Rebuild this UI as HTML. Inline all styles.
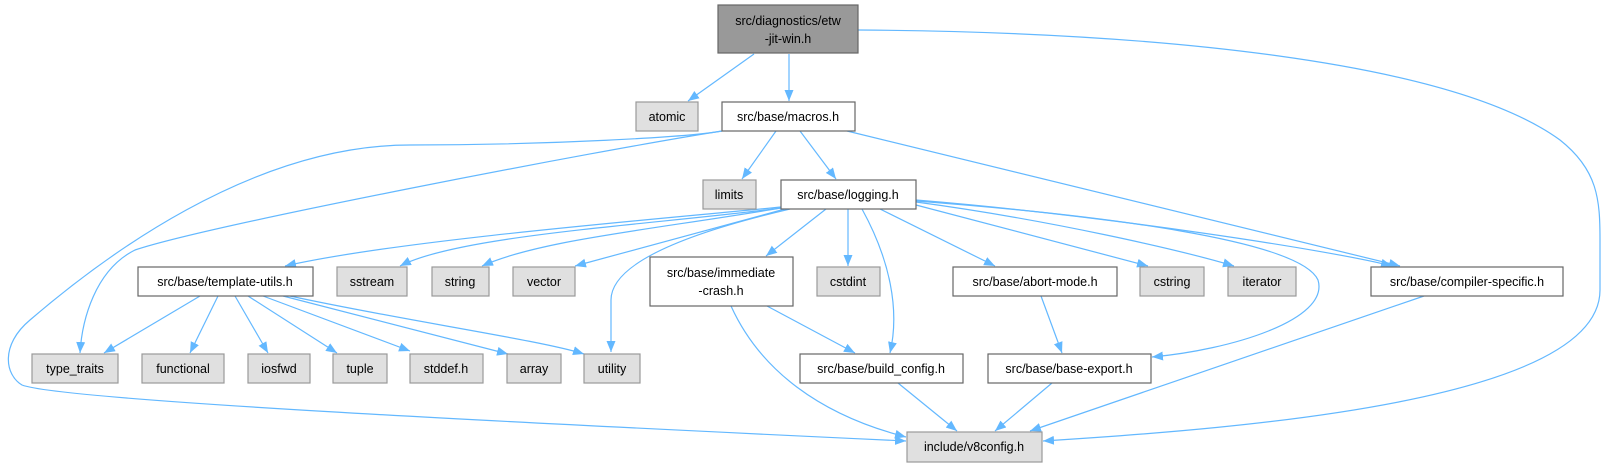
<!DOCTYPE html>
<html><head><meta charset="utf-8"><style>
html,body{margin:0;padding:0;background:#fff;}
svg{display:block;}
text{font-family:"Liberation Sans",sans-serif;font-size:12.5px;fill:#000;text-anchor:middle;}
.e{fill:none;stroke:#63b8ff;stroke-width:1.2;marker-end:url(#a);}
.w{fill:#fff;stroke:#666;stroke-width:1.2;}
.g{fill:#e0e0e0;stroke:#999;stroke-width:1.2;}
.r{fill:#999;stroke:#666;stroke-width:1.2;}
</style></head><body>
<svg width="1606" height="467" viewBox="0 0 1606 467" xmlns="http://www.w3.org/2000/svg">
<defs><marker id="a" markerUnits="userSpaceOnUse" markerWidth="12" markerHeight="10" refX="11" refY="4.5" orient="auto"><path d="M0,0 L11,4.5 L0,9 z" fill="#63b8ff"/></marker></defs>

<path class="e" d="M754,54 L688,101"/>
<path class="e" d="M789,54 L789,101"/>
<path class="e" d="M858,30 C1150,32 1450,60 1560,140 C1598,170 1600,200 1600,240 L1600,290 C1600,400 1250,428 1043,441"/>
<path class="e" d="M722,131 C600,150 210,225 135,250 C95,270 82,320 80,353"/>
<path class="e" d="M722,131 C690,137 550,145 410,145 C250,145 100,260 30,320 C0,345 5,375 22,385 C60,400 500,422 906,441"/>
<path class="e" d="M776,131 L742,179"/>
<path class="e" d="M800,131 L836,179"/>
<path class="e" d="M847,131 L1400,266"/>
<path class="e" d="M781,207 C650,220 400,240 285,266"/>
<path class="e" d="M781,208 C650,225 460,235 400,266"/>
<path class="e" d="M781,208 C650,230 540,240 482,266"/>
<path class="e" d="M785,209 L575,266"/>
<path class="e" d="M790,209 C700,230 611,260 611,300 L611,352"/>
<path class="e" d="M826,209 L766,256"/>
<path class="e" d="M848,209 L848,266"/>
<path class="e" d="M862,209 C890,260 900,310 890,353"/>
<path class="e" d="M880,209 L995,266"/>
<path class="e" d="M916,205 L1148,266"/>
<path class="e" d="M916,202 C1050,220 1180,250 1234,266"/>
<path class="e" d="M916,201 C1100,215 1300,240 1318,280 C1330,320 1230,350 1152,357"/>
<path class="e" d="M916,200 C1100,215 1330,250 1392,266"/>
<path class="e" d="M200,296 L104,353"/>
<path class="e" d="M218,296 L190,353"/>
<path class="e" d="M235,296 L268,353"/>
<path class="e" d="M248,296 L337,353"/>
<path class="e" d="M263,296 L410,351"/>
<path class="e" d="M283,296 L508,354"/>
<path class="e" d="M290,296 C400,320 540,340 584,354"/>
<path class="e" d="M767,306 L855,353"/>
<path class="e" d="M731,306 C760,370 820,415 906,437"/>
<path class="e" d="M1041,296 L1062,353"/>
<path class="e" d="M898,383 L957,431"/>
<path class="e" d="M1052,383 L995,431"/>
<path class="e" d="M1424,296 L1030,431"/>

<rect class="r" x="718" y="5" width="140" height="48"/>
<text x="788" y="25">src/diagnostics/etw</text><text x="788" y="43">-jit-win.h</text>
<rect class="g" x="636" y="102" width="62" height="29"/><text x="667" y="121">atomic</text>
<rect class="w" x="722" y="102" width="133" height="29"/><text x="788" y="121">src/base/macros.h</text>
<rect class="g" x="703" y="180" width="53" height="29"/><text x="729" y="199">limits</text>
<rect class="w" x="781" y="180" width="135" height="29"/><text x="848" y="199">src/base/logging.h</text>
<rect class="w" x="138" y="267" width="175" height="29"/><text x="225" y="286">src/base/template-utils.h</text>
<rect class="g" x="337" y="267" width="70" height="29"/><text x="372" y="286">sstream</text>
<rect class="g" x="432" y="267" width="57" height="29"/><text x="460" y="286">string</text>
<rect class="g" x="513" y="267" width="62" height="29"/><text x="544" y="286">vector</text>
<rect class="w" x="650" y="257" width="143" height="49"/><text x="721" y="277">src/base/immediate</text><text x="721" y="295">-crash.h</text>
<rect class="g" x="817" y="267" width="63" height="29"/><text x="848" y="286">cstdint</text>
<rect class="w" x="953" y="267" width="164" height="29"/><text x="1035" y="286">src/base/abort-mode.h</text>
<rect class="g" x="1140" y="267" width="64" height="29"/><text x="1172" y="286">cstring</text>
<rect class="g" x="1228" y="267" width="68" height="29"/><text x="1262" y="286">iterator</text>
<rect class="w" x="1371" y="267" width="192" height="29"/><text x="1467" y="286">src/base/compiler-specific.h</text>
<rect class="g" x="32" y="354" width="86" height="29"/><text x="75" y="373">type_traits</text>
<rect class="g" x="142" y="354" width="82" height="29"/><text x="183" y="373">functional</text>
<rect class="g" x="248" y="354" width="62" height="29"/><text x="279" y="373">iosfwd</text>
<rect class="g" x="333" y="354" width="54" height="29"/><text x="360" y="373">tuple</text>
<rect class="g" x="410" y="354" width="73" height="29"/><text x="446" y="373">stddef.h</text>
<rect class="g" x="507" y="354" width="54" height="29"/><text x="534" y="373">array</text>
<rect class="g" x="584" y="354" width="56" height="29"/><text x="612" y="373">utility</text>
<rect class="w" x="800" y="354" width="163" height="29"/><text x="881" y="373">src/base/build_config.h</text>
<rect class="w" x="988" y="354" width="163" height="29"/><text x="1069" y="373">src/base/base-export.h</text>
<rect class="g" x="907" y="432" width="135" height="30"/><text x="974" y="451">include/v8config.h</text>
</svg>
</body></html>
